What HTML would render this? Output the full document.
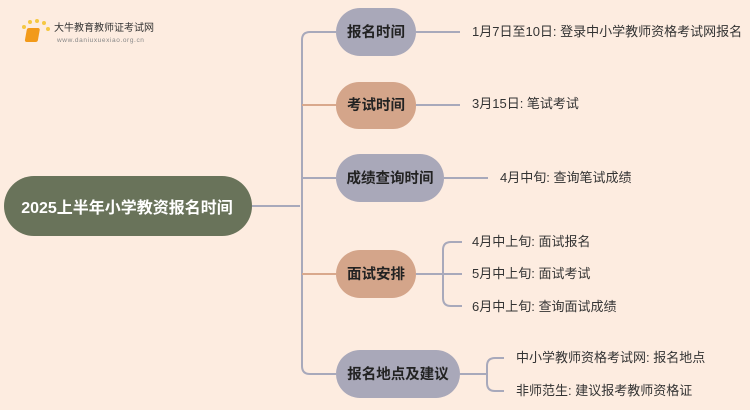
<!DOCTYPE html>
<html><head><meta charset="utf-8"><style>
body{margin:0;width:750px;height:410px;overflow:hidden;background:#fdece0;font-family:"Liberation Sans","Noto Sans CJK SC",sans-serif}
svg{position:absolute;left:0;top:0}
</style></head><body>
<svg width="750" height="410" xmlns="http://www.w3.org/2000/svg" font-family="Liberation Sans, Noto Sans CJK SC, sans-serif">
<g fill="none" stroke-width="2">
<path d="M252 206 H300" stroke="#a8a9bb"/>
<path d="M336 32 H310 Q302 32 302 40 V366 Q302 374 310 374 H336" stroke="#a8a9bb"/>
<path d="M302 105 H336" stroke="#d9a88c"/>
<path d="M302 178 H336" stroke="#a8a9bb"/>
<path d="M302 274 H336" stroke="#d9a88c"/>
<path d="M416 32 H460 M416 105 H460 M444 178 H488" stroke="#a8a9bb"/>
<path d="M416 274 H443 M462 242 H451 Q443 242 443 250 V298 Q443 306 451 306 H462 M443 274 H462" stroke="#a8a9bb"/>
<path d="M460 374 H487 M504 358 H495 Q487 358 487 366 V383 Q487 391 495 391 H504" stroke="#a8a9bb"/>
</g>
<rect x="4" y="176" width="248" height="60" rx="30" fill="#69735a"/>
<text x="127" y="213" text-anchor="middle" font-size="16" font-weight="bold" fill="#fff">2025上半年小学教资报名时间</text>
<rect x="336" y="8" width="80" height="48" rx="24" fill="#a9a8b9"/>
<rect x="336" y="82" width="80" height="47" rx="23" fill="#d4a58a"/>
<rect x="336" y="154" width="108" height="48" rx="24" fill="#a9a8b9"/>
<rect x="336" y="250" width="80" height="48" rx="24" fill="#d4a58a"/>
<rect x="336" y="350" width="124" height="48" rx="24" fill="#a9a8b9"/>
<g font-size="14.5" font-weight="bold" fill="#222" text-anchor="middle">
<text x="376" y="37">报名时间</text>
<text x="376" y="110">考试时间</text>
<text x="390" y="183">成绩查询时间</text>
<text x="376" y="279">面试安排</text>
<text x="398" y="379">报名地点及建议</text>
</g>
<g font-size="13" fill="#333">
<text x="472" y="36">1月7日至10日: 登录中小学教师资格考试网报名</text>
<text x="472" y="108">3月15日: 笔试考试</text>
<text x="500" y="182">4月中旬: 查询笔试成绩</text>
<text x="472" y="246">4月中上旬: 面试报名</text>
<text x="472" y="278">5月中上旬: 面试考试</text>
<text x="472" y="311">6月中上旬: 查询面试成绩</text>
<text x="516" y="362">中小学教师资格考试网: 报名地点</text>
<text x="516" y="395">非师范生: 建议报考教师资格证</text>
</g>
<g>
<circle cx="24" cy="27" r="2" fill="#f5c842"/><circle cx="30" cy="22" r="2" fill="#f5c842"/><circle cx="37" cy="21" r="2" fill="#f5c842"/><circle cx="44" cy="23" r="2" fill="#f5c842"/><circle cx="48" cy="29" r="2" fill="#f5c842"/>
<rect x="32" y="28" width="13" height="14" rx="2" fill="#f29a1a" transform="skewX(-10)"/>
<text x="54" y="31" font-size="10" fill="#333">大牛教育教师证考试网</text>
<text x="57" y="42" font-size="6.5" fill="#888" letter-spacing="0.6">www.daniuxuexiao.org.cn</text>
</g>
</svg>
</body></html>
